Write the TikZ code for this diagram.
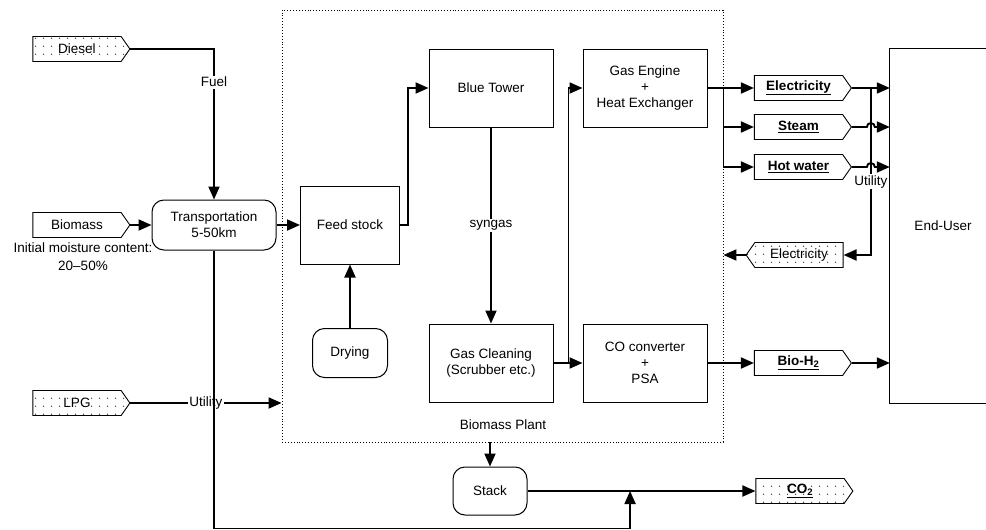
\documentclass[tikz,border=0pt]{standalone}
\usepackage{fontspec}
\setmainfont{Liberation Sans}
\usetikzlibrary{arrows.meta,shapes.symbols,patterns,calc}

\pgfdeclarepatternformonly{sparsedots}{\pgfqpoint{0pt}{0pt}}{\pgfqpoint{8pt}{8pt}}{\pgfqpoint{8pt}{8pt}}%
  {\pgfpathcircle{\pgfqpoint{4pt}{4pt}}{0.8pt}\pgfusepath{fill}}

\tikzset{
  box/.style={draw, line width=1pt, minimum width=124pt, minimum height=78pt, inner sep=0pt, align=center},
  rbox/.style={box, rounded corners=12pt},
  tag/.style={draw, line width=0.9pt, signal, signal to=east, signal pointer angle=110,
    minimum width=97pt, minimum height=25pt, inner sep=0pt},
  dottag/.style={tag, pattern=sparsedots, pattern color=black!75},
  prod/.style={tag, font=\fontsize{13.5}{16}\selectfont\bfseries},
  flow/.style={line width=1.9pt, -{Triangle[length=13pt,width=11pt]}},
  pipe/.style={line width=1.9pt},
  lbl/.style={fill=white, inner sep=1.5pt},
}

\begin{document}
\begin{tikzpicture}[x=1pt, y=-1pt, font=\fontsize{13.5}{16}\selectfont]
  \useasboundingbox (0,0) rectangle (986,530);
  % plant boundary
  \node[draw, dotted, line width=0.9pt, minimum width=441pt, minimum height=432pt] (plant) at (502.5,226) {};
  \node (plantlbl) at (503,425) {Biomass Plant};

  % inputs
  \node[dottag] (diesel) at (77,49) {Diesel};
  \node[tag] (biomass) at (77,225) {Biomass};
  \node[align=center, font=\fontsize{13.5}{18}\selectfont] (moist) at (83,257) {Initial moisture content:\\20--50\%};
  \node[dottag] (lpg) at (77,403) {LPG};

  % process units
  \node[rbox, minimum width=124pt, minimum height=50pt] (trans) at (214,225) {Transportation\\5-50km};
  \node[box, minimum width=99pt] (feed) at (350,225) {Feed stock};
  \node[rbox, minimum width=75pt, minimum height=49pt] (dry) at (350,353) {Drying};
  \node[box] (tower) at (491,88) {Blue Tower};
  \node[box] (clean) at (491,363) {Gas Cleaning\\(Scrubber etc.)};
  \node[box] (engine) at (645,88) {Gas Engine\\+\\Heat Exchanger};
  \node[box] (coconv) at (645,363) {CO converter\\+\\PSA};
  \node[rbox, minimum width=74pt, minimum height=48pt] (stack) at (490,491) {Stack};

  % products
  \node[prod] (elec) at (798.5,88) {\underline{Electricity}};
  \node[prod] (steam) at (798.5,127) {\underline{Steam}};
  \node[prod] (hotw) at (798.5,167) {\underline{Hot water}};
  \node[dottag, signal to=west] (grid) at (799,255) {Electricity};
  \node[prod] (bioh) at (798.5,363) {\underline{Bio-H\textsubscript{2}}};
  \node[dottag, font=\fontsize{13.5}{16}\selectfont\bfseries] (co2) at (800,491) {\underline{CO\textsubscript{2}}};

  % end user, cut at the right edge
  \node[minimum width=96pt, minimum height=354pt] (user) at (938,226) {\hspace*{10pt}End-User};
  \draw[line width=1pt] (user.north east) -- (user.north west) -- (user.south west) -- (user.south east);

  \coordinate (split) at ([xshift=15pt]clean.east);
  \coordinate (hub) at (engine.east -| plant.east);
  \coordinate (tap) at ($(elec.east)!0.5!(elec.east -| user.west)$);
  \coordinate (join) at ($(stack.east)!0.45!(co2.west)$);

  % flows
  \draw[flow] (diesel.east) -| node[lbl, pos=0.61] (fuel) {Fuel} (trans.north);
  \draw[flow] (biomass.east) -- (trans.west);
  \draw[flow] (lpg.east) -- node[lbl] (util1) {Utility} (lpg.east -| plant.west);
  \draw[flow] (trans.south) -- ++(0,278) -| (join);
  \draw[flow] (trans.east) -- (feed.west);
  \draw[flow] (feed.east) -- ++(8,0) |- (tower.west);
  \draw[flow] (dry.north) -- (feed.south);
  \draw[flow] (tower.south) -- node[lbl] (syn) {syngas} (clean.north);
  \draw[flow] (clean.east) -- (coconv.west);
  \draw[flow] (split) |- (engine.west);
  \draw[pipe] (engine.east) -- (hub);
  \draw[flow] (hub) -- (elec.west);
  \draw[flow] (hub) |- (steam.west);
  \draw[flow] (hub) |- (hotw.west);
  \draw[flow] (elec.east) -- (elec.east -| user.west);
  \draw[flow] (steam.east) -- ([xshift=-4pt]steam.east -| tap) arc[start angle=180, end angle=0, radius=4pt] -- (steam.east -| user.west);
  \draw[flow] (hotw.east) -- ([xshift=-4pt]hotw.east -| tap) arc[start angle=180, end angle=0, radius=4pt] -- (hotw.east -| user.west);
  \draw[flow] (tap) |- node[lbl, pos=0.28] (util2) {Utility} (grid.east);
  \draw[flow] (grid.west) -- (grid.west -| plant.east);
  \draw[flow] (coconv.east) -- (bioh.west);
  \draw[flow] (bioh.east) -- (bioh.east -| user.west);
  \draw[flow] (stack.north |- plant.south) -- (stack.north);
  \draw[flow] (stack.east) -- (co2.west);
\end{tikzpicture}
\end{document}
